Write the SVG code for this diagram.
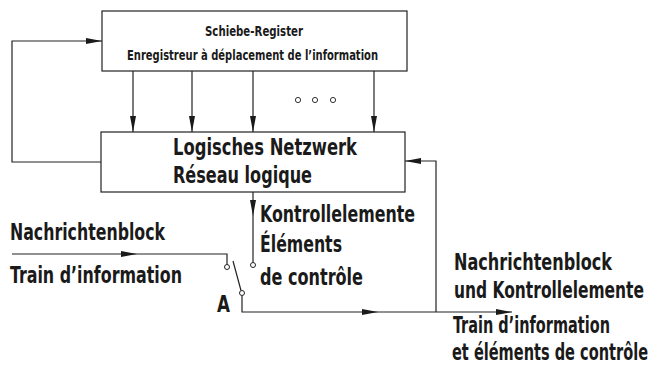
<svg xmlns="http://www.w3.org/2000/svg" width="657" height="373" viewBox="0 0 657 373">
<style>
.box{fill:#fff;stroke:#222;stroke-width:1.2}
.ln{fill:none;stroke:#222;stroke-width:1.2}
.arr{marker-end:url(#ah)}
.io{fill:#fff;stroke:#222;stroke-width:1}
.t{font-family:"DejaVu Sans Condensed","Liberation Sans",sans-serif;font-weight:bold;fill:#1a1a1a}
.big{font-size:18px}
.nar{font-size:16px}
.sm{font-size:12px}
.dot{fill:none;stroke:#333;stroke-width:1}
</style>
<defs>
<marker id="ah" viewBox="0 0 16 6" refX="16" refY="3" markerWidth="16" markerHeight="6" markerUnits="userSpaceOnUse" orient="auto">
<path d="M0,0 L16,3 L0,6 z" fill="#1a1a1a"/>
</marker>
</defs>
<rect width="657" height="373" fill="#fff"/>
<g id="connectors">
<path class="ln arr" d="M101,162 H12 V41 H102"/>
<path class="ln arr" d="M133,71 V132"/>
<path class="ln arr" d="M192,71 V132"/>
<path class="ln arr" d="M253,71 V132"/>
<path class="ln arr" d="M374,71 V132"/>
<path class="ln arr" d="M253,192 V216"/>
<path class="ln" d="M253,216 V262.5"/>
<path class="ln arr" d="M12,254 H137"/>
<path class="ln" d="M137,254 H227 V264.5"/>
<path class="ln" d="M233,261 L241,290.5"/>
<path class="ln arr" d="M242,295.5 V312 H378"/>
<path class="ln arr" d="M378,312 H512"/>
<path class="ln arr" d="M436,312 V161 H405"/>
</g>
<g id="switch">
<circle class="io" cx="227" cy="267" r="2.5"/>
<circle class="io" cx="242" cy="293" r="2.5"/>
<circle class="io" cx="253" cy="265" r="2.5"/>
<text class="t big" transform="translate(217 312) scale(1 1.25)" textLength="13" lengthAdjust="spacingAndGlyphs">A</text>
</g>
<g id="schiebe-register">
<rect class="box" x="102" y="11" width="305" height="60"/>
<text class="t sm" transform="translate(205 36) scale(1 1.15)" textLength="98" lengthAdjust="spacingAndGlyphs">Schiebe-Register</text>
<text class="t sm" transform="translate(127 60) scale(1 1.15)" textLength="251" lengthAdjust="spacingAndGlyphs">Enregistreur à déplacement de l’information</text>
</g>
<g id="dots">
<circle class="dot" cx="298" cy="100" r="2.6"/>
<circle class="dot" cx="315" cy="100" r="2.6"/>
<circle class="dot" cx="333" cy="100" r="2.6"/>
</g>
<g id="logisches-netzwerk">
<rect class="box" x="101" y="132" width="304" height="60"/>
<text class="t big" transform="translate(173 155) scale(1 1.25)" textLength="184" lengthAdjust="spacingAndGlyphs">Logisches Netzwerk</text>
<text class="t big" transform="translate(173 183) scale(1 1.25)" textLength="139" lengthAdjust="spacingAndGlyphs">Réseau logique</text>
</g>
<g id="kontrollelemente">
<text class="t big" transform="translate(260 222) scale(1 1.25)" textLength="155" lengthAdjust="spacingAndGlyphs">Kontrollelemente</text>
<text class="t big" transform="translate(260 252) scale(1 1.25)" textLength="82" lengthAdjust="spacingAndGlyphs">Éléments</text>
<text class="t big" transform="translate(260 285) scale(1 1.25)" textLength="103" lengthAdjust="spacingAndGlyphs">de contrôle</text>
</g>
<g id="input-label">
<text class="t big" transform="translate(10 240) scale(1 1.25)" textLength="155" lengthAdjust="spacingAndGlyphs">Nachrichtenblock</text>
<text class="t big" transform="translate(10 283) scale(1 1.25)" textLength="172" lengthAdjust="spacingAndGlyphs">Train d’information</text>
</g>
<g id="output-label">
<text class="t big" transform="translate(454 270) scale(1 1.25)" textLength="158" lengthAdjust="spacingAndGlyphs">Nachrichtenblock</text>
<text class="t big" transform="translate(454 298) scale(1 1.25)" textLength="190" lengthAdjust="spacingAndGlyphs">und Kontrollelemente</text>
<text class="t big" transform="translate(453 333) scale(1 1.25)" textLength="157" lengthAdjust="spacingAndGlyphs">Train d’information</text>
<text class="t nar" transform="translate(452 360) scale(1 1.4)" textLength="196" lengthAdjust="spacingAndGlyphs">et éléments de contrôle</text>
</g>
</svg>
